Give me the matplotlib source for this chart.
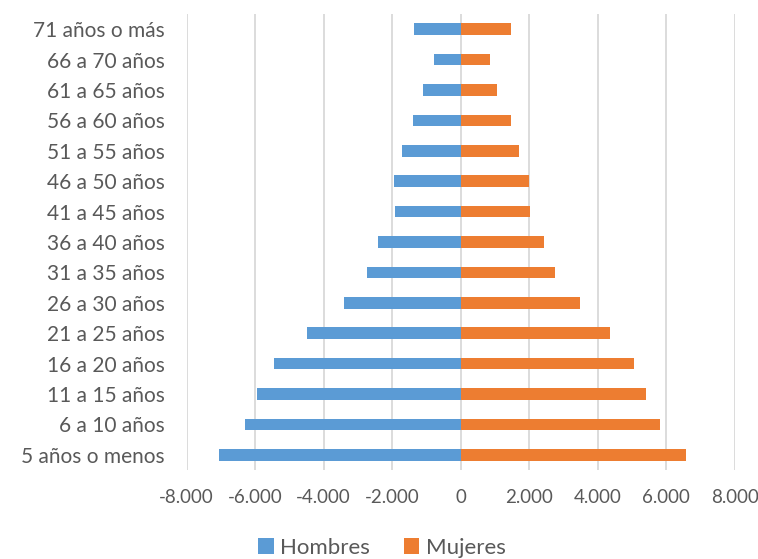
import matplotlib.pyplot as plt
import numpy as np

# age groups, bottom to top
grupos = ["5 años o menos", "6 a 10 años", "11 a 15 años", "16 a 20 años",
          "21 a 25 años", "26 a 30 años", "31 a 35 años", "36 a 40 años",
          "41 a 45 años", "46 a 50 años", "51 a 55 años", "56 a 60 años",
          "61 a 65 años", "66 a 70 años", "71 años o más"]
hombres = [-7066, -6307, -5937, -5450, -4488, -3407, -2735, -2404,
           -1918, -1947, -1713, -1402, -1100, -788, -1372]
mujeres = [6579, 5810, 5401, 5051, 4361, 3474, 2765, 2443,
           2024, 1995, 1693, 1480, 1071, 866, 1480]
xticks = [-8000, -6000, -4000, -2000, 0, 2000, 4000, 6000, 8000]

plt.rcParams['font.family'] = ['Lato', 'DejaVu Sans']
gris = "#595959"

fig = plt.figure(figsize=(7.58, 5.59), dpi=100)
ax = fig.add_axes([186.7 / 758, 1 - 470 / 559, 548 / 758, 456 / 559])

y = np.arange(len(grupos))
ax.barh(y, hombres, height=0.38, color="#5B9BD5", label="Hombres", zorder=3)
ax.barh(y, mujeres, height=0.38, color="#ED7D31", label="Mujeres", zorder=3)

ax.set_xlim(-8000, 8000)
ax.set_ylim(-0.5, len(grupos) - 0.5)
ax.set_xticks(xticks)
ax.set_xticklabels([f"{v:,}".replace(",", ".") for v in xticks])
ax.set_yticks(y)
ax.set_yticklabels(grupos)
ax.tick_params(axis="both", length=0, colors=gris)
ax.tick_params(axis="x", pad=14, labelsize=13.5)
ax.tick_params(axis="y", pad=16, labelsize=15)
ax.grid(axis="x", color="#D9D9D9", linewidth=1.3, zorder=0)
for s in ax.spines.values():
    s.set_visible(False)

fig.legend(loc="center", bbox_to_anchor=(382 / 758, 1 - 548 / 559), ncol=2,
           frameon=False, fontsize=16, labelcolor=gris, handlelength=0.7,
           handleheight=0.7, handletextpad=0.3, columnspacing=1.5)

fig.savefig("out.png", dpi=100)
